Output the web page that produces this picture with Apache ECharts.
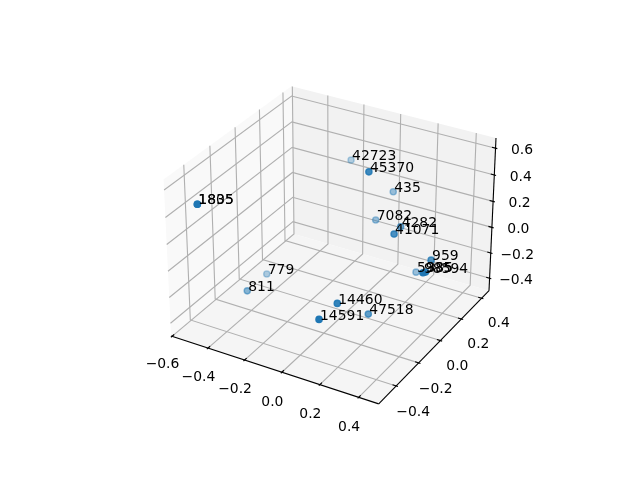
<!DOCTYPE html>
<html><head><meta charset="utf-8"><style>html,body{margin:0;padding:0;background:#fff}#c{width:640px;height:480px}</style>
<script src="https://cdn.jsdelivr.net/npm/echarts@6/dist/echarts.min.js"></script></head>
<body><div id="c"></div><script>
const labels=['1805','1835','42723','45370','435','7082','4282','41071','959','5935','98594','385','14460','14591','47518','779','811'];
const xs=[-0.499,-0.499,-0.251,0.088,0.023,-0.016,0.171,0.236,0.392,0.214,0.479,0.434,0.137,0.127,0.180,-0.446,-0.421];
const ys=[-0.454,-0.454,0.444,0.042,0.377,0.284,0.194,0.021,0.091,0.273,-0.140,-0.035,-0.304,-0.440,-0.105,0.001,-0.199];
const zs=[0.468,0.468,0.252,0.573,0.158,-0.008,0.083,0.185,-0.002,-0.314,0.123,0.025,-0.122,-0.134,-0.350,-0.393,-0.355];
const xTicks=[-0.6,-0.4,-0.2,0.0,0.2,0.4];
const yTicks=[-0.4,-0.2,0.0,0.2,0.4];
const zTicks=[-0.4,-0.2,0.0,0.2,0.4,0.6];
const xLim=[-0.605,0.502],yLim=[-0.55,0.474],zLim=[-0.5,0.675];

const asp=[1.1905,1.1905,0.8929],DIST=10;
const U=[0.8660254,0.5,0],V=[-0.25,0.4330127,0.8660254],W=[0.4330127,-0.75,0.5];
function viewOf(x,y,z){
  const r=[(x-xLim[0])/(xLim[1]-xLim[0])*asp[0]-asp[0]/2,(y-yLim[0])/(yLim[1]-yLim[0])*asp[1]-asp[1]/2,(z-zLim[0])/(zLim[1]-zLim[0])*asp[2]-asp[2]/2];
  const dot=a=>a[0]*r[0]+a[1]*r[1]+a[2]*r[2];
  return {u:dot(U),v:dot(V),w:dot(W)};
}
function proj(x,y,z){const p=viewOf(x,y,z),d=DIST-p.w;return [p.u/d,p.v/d];}

const xMin=xLim[0],xMax=xLim[1],yMin=yLim[0],yMax=yLim[1],zMin=zLim[0],zMax=zLim[1];
const BLUE='#1f77b4',GRID='#b0b0b0',BLACK='#000000',FONT='"DejaVu Sans"';
const fmt=v=>(v<0?'\u2212':'')+Math.abs(v).toFixed(1);

const panes=[
 {pts:[[xMin,yMin,zMin],[xMin,yMax,zMin],[xMin,yMax,zMax],[xMin,yMin,zMax]],c:'#f9f9f9'},
 {pts:[[xMin,yMax,zMin],[xMax,yMax,zMin],[xMax,yMax,zMax],[xMin,yMax,zMax]],c:'#f2f2f2'},
 {pts:[[xMin,yMin,zMin],[xMax,yMin,zMin],[xMax,yMax,zMin],[xMin,yMax,zMin]],c:'#f5f5f5'}
];
const segs=[];
const pl=(p,c,w)=>segs.push({p,c,w});
xTicks.forEach(t=>pl([[t,yMin,zMin],[t,yMax,zMin],[t,yMax,zMax]],GRID,1.11));
yTicks.forEach(t=>pl([[xMax,t,zMin],[xMin,t,zMin],[xMin,t,zMax]],GRID,1.11));
zTicks.forEach(t=>pl([[xMax,yMax,t],[xMin,yMax,t],[xMin,yMin,t]],GRID,1.11));
pl([[xMin,yMin,zMin],[xMax,yMin,zMin]],BLACK,1.11);
pl([[xMax,yMin,zMin],[xMax,yMax,zMin]],BLACK,1.11);
pl([[xMax,yMax,zMin],[xMax,yMax,zMax]],BLACK,1.11);
const dy=(yMax-yMin)/12,dx=(xMax-xMin)/12;
xTicks.forEach(t=>pl([[t,yMin-0.1*dy,zMin],[t,yMin+0.2*dy,zMin]],BLACK,1.11));
yTicks.forEach(t=>pl([[xMax+0.1*dx,t,zMin],[xMax-0.2*dx,t,zMin]],BLACK,1.11));
zTicks.forEach(t=>pl([[xMax+0.1*dx,yMax,t],[xMax-0.2*dx,yMax,t]],BLACK,1.11));

const depth=xs.map((x,i)=>viewOf(x,ys[i],zs[i]).w);
const dLo=Math.min(...depth),dHi=Math.max(...depth);
const alpha=depth.map(d=>1-0.7*(dHi-d)/(dHi-dLo));
const order=depth.map((d,i)=>i).sort((a,b)=>depth[a]-depth[b]);
const pts=order.map(i=>{const q=proj(xs[i],ys[i],zs[i]);return {value:q,itemStyle:{opacity:alpha[i]}};});
const txt=labels.map((s,i)=>{const q=proj(xs[i],ys[i],zs[i]);return {value:q,name:s};});

const tickLabels=[];
xTicks.forEach(t=>tickLabels.push({value:proj(t,yMin,zMin),t:fmt(t),ox:-9.5,oy:28.5+(t+0.6)*2}));
yTicks.forEach(t=>tickLabels.push({value:proj(xMax,t,zMin),t:fmt(t),ox:17,oy:26-t*1.5}));
zTicks.forEach(t=>tickLabels.push({value:proj(xMax,yMax,t),t:fmt(t),ox:26.5,oy:2}));

const chart=echarts.init(document.getElementById('c'),null,{renderer:'canvas'});
chart.setOption({
 animation:false,backgroundColor:'#fff',
 grid:{left:143.2,top:57.6,width:369.6,height:369.6},
 xAxis:{type:'value',min:-0.095,max:0.09,show:false},
 yAxis:{type:'value',min:-0.095,max:0.09,show:false},
 series:[
  {type:'custom',z:1,silent:true,clip:false,coordinateSystem:'cartesian2d',data:panes.map((p,i)=>[i]),
   renderItem:(ctx,api)=>{const p=panes[api.value(0)];return {type:'polygon',shape:{points:p.pts.map(a=>api.coord(proj(a[0],a[1],a[2])))},style:{fill:p.c,stroke:null}};},
   encode:{x:0,y:0}},
  {type:'custom',z:2,silent:true,clip:false,coordinateSystem:'cartesian2d',data:segs.map((p,i)=>[i]),
   renderItem:(ctx,api)=>{const s=segs[api.value(0)];return {type:'polyline',shape:{points:s.p.map(a=>api.coord(proj(a[0],a[1],a[2])))},style:{fill:null,stroke:s.c,lineWidth:s.w}};},
   encode:{x:0,y:0}},
  {type:'scatter',z:3,silent:true,clip:false,symbol:'circle',symbolSize:6.2,data:pts,
   itemStyle:{color:BLUE,borderColor:BLUE,borderWidth:1.39}},
  {type:'custom',z:4,silent:true,clip:false,coordinateSystem:'cartesian2d',data:txt.map((p,i)=>[p.value[0],p.value[1],i]),
   renderItem:(ctx,api)=>{const c=api.coord([api.value(0),api.value(1)]);return {type:'text',x:c[0]+1,y:c[1]+3.5,style:{text:txt[api.value(2)].name,fill:BLACK,font:'13.9px '+FONT,textAlign:'left',textVerticalAlign:'bottom'},};},
   encode:{x:0,y:1}},
  {type:'custom',z:4,silent:true,clip:false,coordinateSystem:'cartesian2d',data:tickLabels.map((p,i)=>[p.value[0],p.value[1],i]),
   renderItem:(ctx,api)=>{const c=api.coord([api.value(0),api.value(1)]),l=tickLabels[api.value(2)];return {type:'text',x:c[0]+l.ox,y:c[1]+l.oy,style:{text:l.t,fill:BLACK,font:'13.9px '+FONT,textAlign:'center',textVerticalAlign:'middle'}};},
   encode:{x:0,y:1}}
 ]
});
</script></body></html>
